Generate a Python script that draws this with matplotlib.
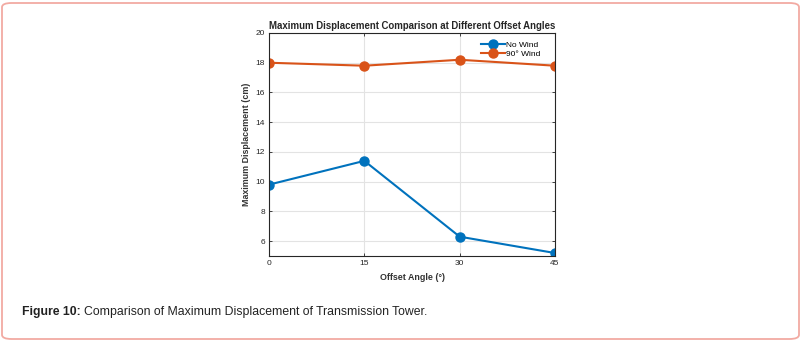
import matplotlib
matplotlib.use('Agg')
import matplotlib.pyplot as plt
from matplotlib.patches import FancyBboxPatch

plt.rcParams['font.family'] = ['Liberation Sans', 'DejaVu Sans']

# Углы смещения и максимальные перемещения (см)
angles = [0, 15, 30, 45]
no_wind = [9.8, 11.4, 6.3, 5.2]
wind_90 = [18.0, 17.8, 18.2, 17.8]
series_labels = ['No Wind', '90° Wind']
x_ticks = [0, 15, 30, 45]
y_ticks = [6, 8, 10, 12, 14, 16, 18, 20]

fig = plt.figure(figsize=(8.07, 3.45), dpi=100)

# Рамка вокруг рисунка со скруглёнными углами
frame = FancyBboxPatch((2 / 807, 6 / 345), 797 / 807, 336 / 345,
                       boxstyle='round,pad=0,rounding_size=0.012',
                       transform=fig.transFigure, fill=False,
                       edgecolor='#f2aaa2', linewidth=1.3)
fig.patches.append(frame)

ax = fig.add_axes([269 / 807, 1 - 256 / 345, 286 / 807, 223 / 345])
ax.plot(angles, no_wind, '-o', color='#0072BD', lw=1.5, ms=6.5, label=series_labels[0])
ax.plot(angles, wind_90, '-o', color='#D95319', lw=1.5, ms=6.5, label=series_labels[1])

ax.set_xlim(0, 45)
ax.set_ylim(5, 20)
ax.set_xticks(x_ticks)
ax.set_yticks(y_ticks)
ax.grid(True, color='#e3e3e3', lw=0.8)
ax.tick_params(direction='in', length=2.5, width=0.6, labelsize=6,
               top=True, right=True, colors='#262626', pad=3)
for s in ax.spines.values():
    s.set_linewidth(0.8)
    s.set_color('#262626')

ax.set_title('Maximum Displacement Comparison at Different Offset Angles',
             fontsize=6.9, fontweight='bold', color='#262626', pad=3)
ax.set_xlabel('Offset Angle (°)', fontsize=6.4, fontweight='bold', color='#333333', labelpad=4)
ax.set_ylabel('Maximum Displacement (cm)', fontsize=6.4, fontweight='bold', color='#333333', labelpad=3)

leg = ax.legend(loc='upper right', frameon=False, fontsize=6, handlelength=2.8,
                borderaxespad=0.3, labelspacing=0.2, handletextpad=0.2,
                bbox_to_anchor=(0.97, 0.99))

# Подпись рисунка: жирная часть и обычный текст следом
cap_y = 1 - 312 / 345
t_bold = fig.text(22 / 807, cap_y, 'Figure 10:', fontsize=8.8, fontweight='bold',
                  va='center', ha='left', color='#222222')
fig.canvas.draw()
bb = t_bold.get_window_extent()
fig.text((bb.x1 + 3) / 807, cap_y, 'Comparison of Maximum Displacement of Transmission Tower.',
         fontsize=8.8, va='center', ha='left', color='#222222')

fig.savefig('out.png', dpi=100)
